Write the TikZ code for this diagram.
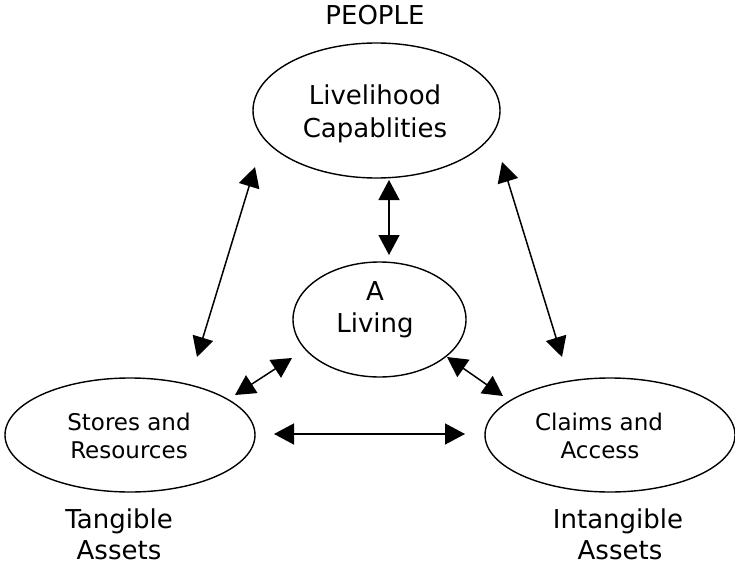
\documentclass[tikz,border=0pt]{standalone}
\usepackage{fontspec}
\setmainfont{DejaVu Sans}
\usetikzlibrary{shapes.geometric,arrows.meta}
\begin{document}
\begin{tikzpicture}[x=1pt,y=-1pt,
  ell/.style={draw,ellipse,line width=1.4pt,inner sep=0pt},
  big/.style={font=\fontsize{26}{32}\selectfont,anchor=base,inner sep=0pt},
  small/.style={font=\fontsize{23}{28}\selectfont,anchor=base,inner sep=0pt},
  dbl/.style={line width=1.5pt,{Triangle[length=20pt,width=21pt]}-{Triangle[length=20pt,width=21pt]}}]
\useasboundingbox (0,0) rectangle (735,564);
% ellipses
\node[ell,minimum width=247pt,minimum height=135pt] (cap) at (376.5,110.5) {};
\node[ell,minimum width=173pt,minimum height=115pt] (liv) at (379.5,319.5) {};
\node[ell,minimum width=250pt,minimum height=114pt] (sto) at (130,435) {};
\node[ell,minimum width=250pt,minimum height=114pt] (cla) at (610,435) {};
% texts
\node[big] (people) at (375,25) {PEOPLE};
\node[big] (t1) at (375,105) {Livelihood};
\node[big] (t2) at (375,138) {Capablities};
\node[big] (t3) at (375,300) {A};
\node[big] (t4) at (375,332) {Living};
\node[small] (t5) at (129,430) {Stores and};
\node[small] (t6) at (129,458) {Resources};
\node[small] (t7) at (599,430) {Claims and};
\node[small] (t8) at (600,458) {Access};
\node[big] (t9) at (119,528) {Tangible};
\node[big] (t10) at (119,559) {Assets};
\node[big] (t11) at (618,528) {Intangible};
\node[big] (t12) at (620,559) {Assets};
% arrow ends
\coordinate (a1) at (255,167);
\coordinate (a2) at (197,357);
\coordinate (b1) at (389,180);
\coordinate (b2) at (389,255);
\coordinate (c1) at (502,162);
\coordinate (c2) at (562,357);
\coordinate (d1) at (235,395);
\coordinate (d2) at (292,358);
\coordinate (e1) at (447,357);
\coordinate (e2) at (503,396);
\coordinate (f1) at (274,434);
\coordinate (f2) at (465,434);
\draw[dbl] (a1) -- (a2);
\draw[dbl] (b1) -- (b2);
\draw[dbl] (c1) -- (c2);
\draw[dbl] (d1) -- (d2);
\draw[dbl] (e1) -- (e2);
\draw[dbl] (f1) -- (f2);
\end{tikzpicture}
\end{document}
